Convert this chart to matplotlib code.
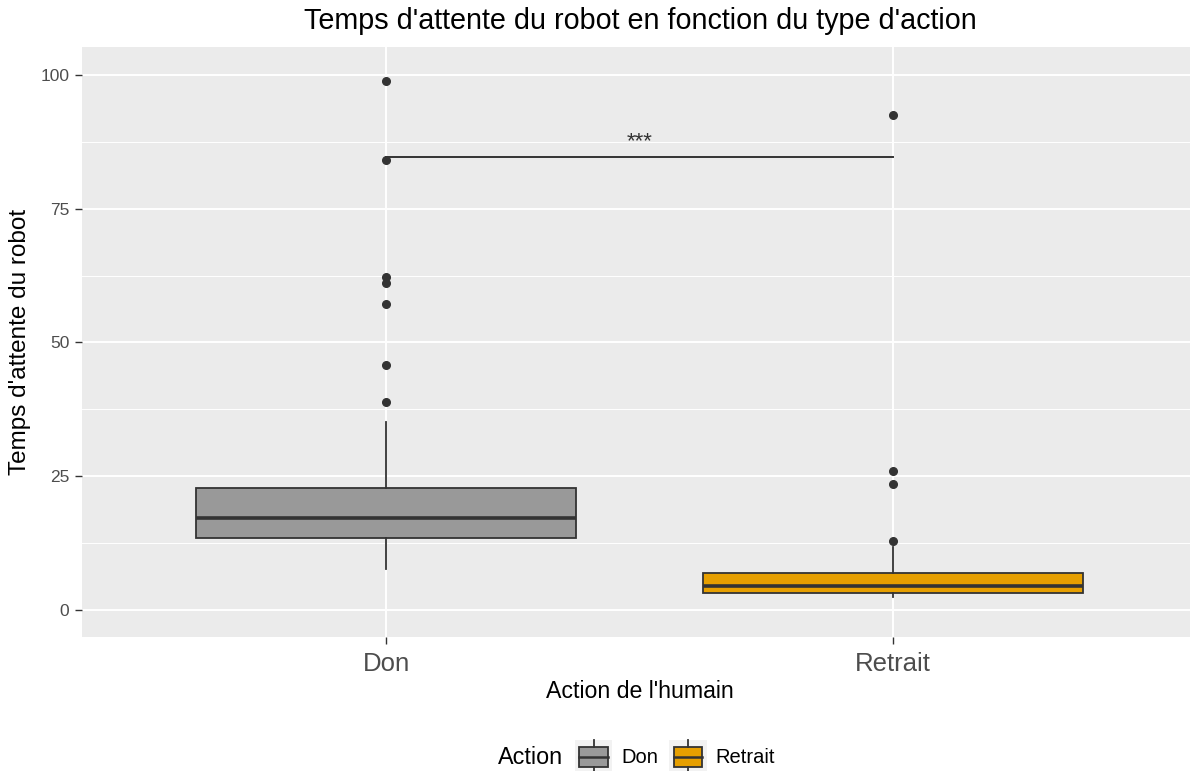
import numpy as np
import matplotlib.pyplot as plt
from matplotlib.patches import Rectangle
from matplotlib.lines import Line2D
from matplotlib.legend_handler import HandlerBase

plt.rcParams['font.family'] = ['Liberation Sans', 'DejaVu Sans']

# Box summaries per action (q1, median, q3, whiskers) and the outliers
actions = ["Don", "Retrait"]
q1 = [13.5, 3.2]
medians = [17.2, 4.4]
q3 = [22.8, 6.9]
whisker_low = [7.7, 2.5]
whisker_high = [35.1, 11.7]
outliers = [
    [38.9, 45.8, 57.2, 61.1, 62.2, 84.1, 98.9],
    [12.8, 23.6, 26.0, 92.5],
]
fills = ["#999999", "#E69F00"]

# Significance bracket between the two groups
signif_y = 84.7
signif_label = "***"

edge = "#333333"
panel_bg = "#EBEBEB"

fig = plt.figure(figsize=(11.9, 7.71), dpi=100)
ax = fig.add_axes([82 / 1190, 1 - 637 / 771, 1 - 82 / 1190 + 0.006, (637 - 47) / 771])
ax.set_facecolor(panel_bg)

stats = []
for i, name in enumerate(actions):
    stats.append(dict(label=name, q1=q1[i], med=medians[i], q3=q3[i],
                      whislo=whisker_low[i], whishi=whisker_high[i],
                      fliers=outliers[i]))

bp = ax.bxp(stats, positions=[1, 2], widths=0.75, patch_artist=True,
            showcaps=False, zorder=3,
            boxprops=dict(edgecolor=edge, linewidth=1.3),
            medianprops=dict(color=edge, linewidth=2.6),
            whiskerprops=dict(color=edge, linewidth=1.3),
            flierprops=dict(marker="o", markerfacecolor=edge, markeredgecolor=edge,
                            markersize=5.5))
for patch, col in zip(bp["boxes"], fills):
    patch.set_facecolor(col)

# p-value bracket
ax.plot([1, 2], [signif_y, signif_y], color=edge, linewidth=1.4, zorder=4)
ax.text(1.5, signif_y + 0.8, signif_label, ha="center", va="bottom",
        fontsize=16, color=edge, zorder=4)

ax.set_xlim(0.4, 2.6)
ax.set_ylim(-5.05, 105.2)
ax.set_xticks([1, 2])
ax.set_xticklabels(actions)
ax.set_yticks([0, 25, 50, 75, 100])
ax.set_yticks([12.5, 37.5, 62.5, 87.5], minor=True)

ax.grid(True, which="major", color="white", linewidth=1.4, zorder=0)
ax.grid(True, which="minor", axis="y", color="white", linewidth=0.7, zorder=0)
ax.set_axisbelow(True)
for s in ax.spines.values():
    s.set_visible(False)

ax.tick_params(axis="y", which="major", labelsize=12.5, labelcolor="#4D4D4D",
               color="#333333", length=5, width=1, pad=4)
ax.tick_params(axis="x", which="major", labelsize=18.5, labelcolor="#4D4D4D",
               color="#333333", length=5, width=1, pad=6)
ax.tick_params(which="minor", length=0)

ax.set_xlabel("Action de l'humain", fontsize=16.7, labelpad=3)
ax.set_ylabel("Temps d'attente du robot", fontsize=17.5, labelpad=7)
fig.text(0.5378, 1 - 21 / 771, "Temps d'attente du robot en fonction du type d'action",
         ha="center", va="center", fontsize=20.7)


class BoxKeyHandler(HandlerBase):
    def create_artists(self, legend, orig_handle, xdescent, ydescent,
                       width, height, fontsize, trans):
        x0, y0 = -xdescent, -ydescent
        bg = Rectangle((x0, y0), width, height,
                       facecolor="#F2F2F2", edgecolor="none", transform=trans)
        bx = Rectangle((x0 + width * 0.12, y0 + height * 0.22),
                       width * 0.76, height * 0.56, facecolor=orig_handle.get_facecolor(),
                       edgecolor=edge, linewidth=1.3, transform=trans)
        cx = x0 + width / 2
        mid = Line2D([x0 + width * 0.12, x0 + width * 0.88],
                     [y0 + height / 2] * 2, color=edge, linewidth=1.8,
                     transform=trans)
        top = Line2D([cx, cx], [y0 + height * 0.78, y0 + height],
                     color=edge, linewidth=1.3, transform=trans)
        bot = Line2D([cx, cx], [y0, y0 + height * 0.22],
                     color=edge, linewidth=1.3, transform=trans)
        return [bg, bx, mid, top, bot]


handles = [Rectangle((0, 0), 1, 1, facecolor=c) for c in fills]
fig.text(498 / 1190, 1 - 758 / 771, "Action", ha="left", va="center", fontsize=16.8)
fig.legend(handles, actions, handler_map={Rectangle: BoxKeyHandler()},
           loc="center left", bbox_to_anchor=(575 / 1190, 1 - 757 / 771),
           ncol=2, frameon=False, fontsize=14.5, handlelength=1.85, handleheight=2.25,
           handletextpad=0.45, columnspacing=0.55, borderpad=0, borderaxespad=0)

fig.savefig("out.png", dpi=100)
